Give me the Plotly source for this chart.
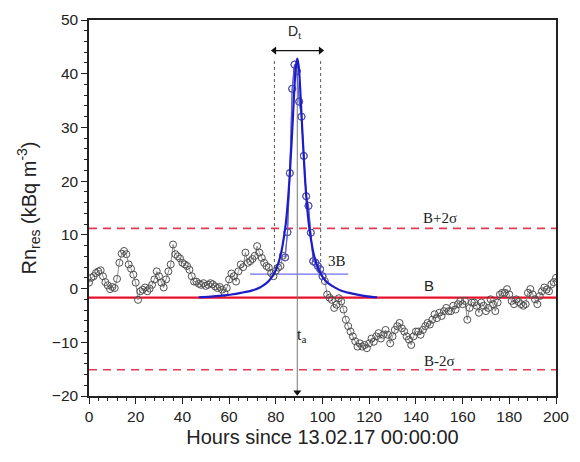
import plotly.graph_objects as go

# Residual radon concentration, hourly samples (kBq m^-3)
hours = list(range(0, 201))
rn_res = [
    1.1, 2.0, 2.3, 2.9, 3.2, 3.4, 2.3, 1.2, 0.6, -0.1,
    0.3, 0.1, 1.8, 4.8, 6.5, 7.0, 6.4, 4.5, 3.7, 2.6,
    1.1, -2.1, -0.5, -0.2, 0.2, -0.5, 0.0, 0.7, 1.7, 3.2,
    2.3, 1.1, 0.2, 1.7, 3.2, 4.5, 8.2, 6.4, 6.0, 5.6,
    4.8, 4.5, 4.2, 3.5, 2.3, 1.3, 1.3, 0.9, 0.7, 1.0,
    0.5, 0.7, 1.0, 0.8, 0.4, 0.1, 0.3, -0.2, -0.8, 0.1,
    1.7, 2.8, 2.3, 1.3, 3.2, 4.5, 4.0, 6.7, 4.8, 5.1,
    5.5, 6.1, 7.9, 6.7, 5.7, 4.8, 4.2, 3.9, 2.9, 2.3,
    3.3, 3.9, 4.2, 6.1, 5.8, 10.5, 21.5, 37.2, 41.7, 40.5,
    34.8, 32.0, 24.7, 17.2, 15.4, 10.4, 5.1, 4.8, 4.2, 3.6,
    2.3, 1.4, -1.1, -1.7, -2.1, -3.6, -3.0, -1.8, -2.4, -3.9,
    -5.8, -7.0, -8.0, -8.9, -9.8, -10.8, -10.2, -10.8, -10.5, -11.1,
    -10.2, -9.3, -9.9, -8.9, -8.3, -9.3, -8.6, -7.7, -8.6, -10.2,
    -8.9, -7.7, -7.0, -6.4, -7.4, -8.0, -8.9, -9.5, -10.5, -8.9,
    -8.0, -8.0, -8.6, -7.7, -7.0, -6.4, -6.7, -5.8, -4.8, -5.5,
    -4.5, -5.1, -4.2, -3.6, -4.2, -4.2, -3.2, -3.9, -2.9, -2.3,
    -2.9, -2.3, -5.8, -3.6, -2.6, -2.6, -3.2, -4.5, -2.6, -3.2,
    -4.2, -3.6, -2.0, -2.9, -4.2, -2.6, -1.1, -0.8, -0.8, -0.1,
    -1.1, -2.3, -2.9, -2.0, -2.5, -2.9, -3.2, -2.9, -0.8, -0.1,
    -1.1, -2.0, -2.9, -1.4, -0.5, 0.2, -0.2, -0.5, 0.8, 1.2,
    2.0,
]

# Peak fit curve (hours, kBq m^-3)
fit_hours = [47, 52, 57, 61, 65, 70, 73, 76, 78, 80, 82, 84, 85, 86, 87, 88, 88.6,
             89.2, 89.8, 90.4, 91.4, 92.4, 93.4, 94.4, 96.4, 98.4, 100.4, 102.4,
             105.4, 108.4, 113.4, 118.4, 123.4]
fit_rn = [-1.65, -1.5, -1.3, -1.1, -0.8, -0.33, 0.17, 1.01, 1.95, 3.46, 6.11,
          11.16, 15.3, 21.3, 29.1, 37.6, 41.4, 42.8, 41.4, 37.6, 29.1, 21.3, 15.3,
          11.16, 6.11, 3.46, 1.95, 1.01, 0.17, -0.45, -1.0, -1.4, -1.65]

# Reference levels
baseline_b = -1.7
upper_2sigma = 11.2
lower_2sigma = -15.1
level_3b = 2.7
level_3b_span = [69, 111]

# Event timing
t_peak = 89.2
peak_top = 42.8
arrow_tip = -19.3
dt_start = 79.4
dt_end = 99.2
dt_arrow_y = 44.3

peak_slice = slice(84, 101)

fig = go.Figure()

# reference lines
fig.add_trace(go.Scatter(x=[0, 200], y=[upper_2sigma] * 2, mode="lines",
                         line=dict(color="#e23a50", width=1.6, dash="8px,6px"),
                         hoverinfo="skip"))
fig.add_trace(go.Scatter(x=[0, 200], y=[lower_2sigma] * 2, mode="lines",
                         line=dict(color="#e23a50", width=1.6, dash="8px,6px"),
                         hoverinfo="skip"))
fig.add_trace(go.Scatter(x=[0, 200], y=[baseline_b] * 2, mode="lines",
                         line=dict(color="#e8102a", width=2.2), hoverinfo="skip"))
fig.add_trace(go.Scatter(x=level_3b_span, y=[level_3b] * 2, mode="lines",
                         line=dict(color="#6f6ff0", width=1.2), hoverinfo="skip"))

# duration markers
for xv in (dt_start, dt_end):
    fig.add_trace(go.Scatter(x=[xv, xv], y=[level_3b, peak_top], mode="lines",
                             line=dict(color="#555555", width=1, dash="3px,3px"),
                             hoverinfo="skip"))

# arrival-time line with arrowhead
fig.add_trace(go.Scatter(x=[t_peak, t_peak], y=[peak_top, arrow_tip], mode="lines",
                         line=dict(color="#777777", width=1), hoverinfo="skip"))
fig.add_trace(go.Scatter(x=[t_peak], y=[arrow_tip], mode="markers",
                         marker=dict(symbol="triangle-down", size=7, color="#111111"),
                         hoverinfo="skip"))

# duration double arrow
fig.add_trace(go.Scatter(x=[dt_start, dt_end], y=[dt_arrow_y] * 2, mode="lines",
                         line=dict(color="#111111", width=1.3), hoverinfo="skip"))
fig.add_trace(go.Scatter(x=[dt_start, dt_end], y=[dt_arrow_y] * 2, mode="markers",
                         marker=dict(symbol=["triangle-left", "triangle-right"], size=7,
                                     color="#111111"),
                         hoverinfo="skip"))

# measured series
fig.add_trace(go.Scatter(x=hours, y=rn_res, mode="lines+markers",
                         line=dict(color="#808080", width=0.9),
                         marker=dict(symbol="circle-open", size=7,
                                     color="#505050", line=dict(width=1))))
fig.add_trace(go.Scatter(x=hours[peak_slice], y=rn_res[peak_slice], mode="lines+markers",
                         line=dict(color="#5a5ae0", width=1.2),
                         marker=dict(symbol="circle-open", size=7,
                                     color="#5050c8", line=dict(width=1))))

# fitted peak
fig.add_trace(go.Scatter(x=fit_hours, y=fit_rn, mode="lines",
                         line=dict(color="#1c1cc8", width=2.2, shape="spline"),
                         hoverinfo="skip"))

serif = "Liberation Serif, Times New Roman, serif"
sans = "Liberation Sans, Arial, sans-serif"

annotations = [
    dict(x=88, y=47.8, text="D<sub>t</sub>", showarrow=False,
         font=dict(family=sans, size=14, color="#222222")),
    dict(x=150.3, y=13.2, text="B+2σ", showarrow=False,
         font=dict(family=serif, size=15, color="#222222")),
    dict(x=150.3, y=-13.4, text="B-2σ", showarrow=False,
         font=dict(family=serif, size=15, color="#222222")),
    dict(x=145.7, y=0.6, text="B", showarrow=False,
         font=dict(family=sans, size=15, color="#222222")),
    dict(x=106.3, y=5.2, text="3B", showarrow=False,
         font=dict(family=serif, size=15, color="#222222")),
    dict(x=91.0, y=-8.8, text="t<sub>a</sub>", showarrow=False,
         font=dict(family=serif, size=16, color="#222222")),
]

fig.update_layout(
    width=580, height=462,
    margin=dict(l=89, r=24, t=20, b=66),
    plot_bgcolor="white", paper_bgcolor="white",
    showlegend=False,
    font=dict(family=sans, color="#222222"),
    annotations=annotations,
    xaxis=dict(
        range=[0, 200], tickvals=[0, 20, 40, 60, 80, 100, 120, 140, 160, 180, 200],
        ticks="outside", ticklen=6, tickwidth=1, tickcolor="#222222",
        minor=dict(dtick=4, ticks="outside", ticklen=3, tickcolor="#222222"),
        showline=True, linecolor="#222222", linewidth=1.5, mirror=True,
        showgrid=False, zeroline=False,
        tickfont=dict(size=15.5, family=sans),
        title=dict(text="Hours since 13.02.17 00:00:00", font=dict(size=20, family=sans),
                   standoff=6),
    ),
    yaxis=dict(
        range=[-20, 50], dtick=10,
        ticks="outside", ticklen=6, tickwidth=1, tickcolor="#222222",
        minor=dict(dtick=2, ticks="outside", ticklen=3, tickcolor="#222222"),
        showline=True, linecolor="#222222", linewidth=1.5, mirror=True,
        showgrid=False, zeroline=False,
        tickfont=dict(size=15.5, family=sans),
        title=dict(text="Rn<sub>res</sub> (kBq m<sup>-3</sup>)", font=dict(size=20, family=sans),
                   standoff=10),
    ),
)

fig.write_html("out.html")
